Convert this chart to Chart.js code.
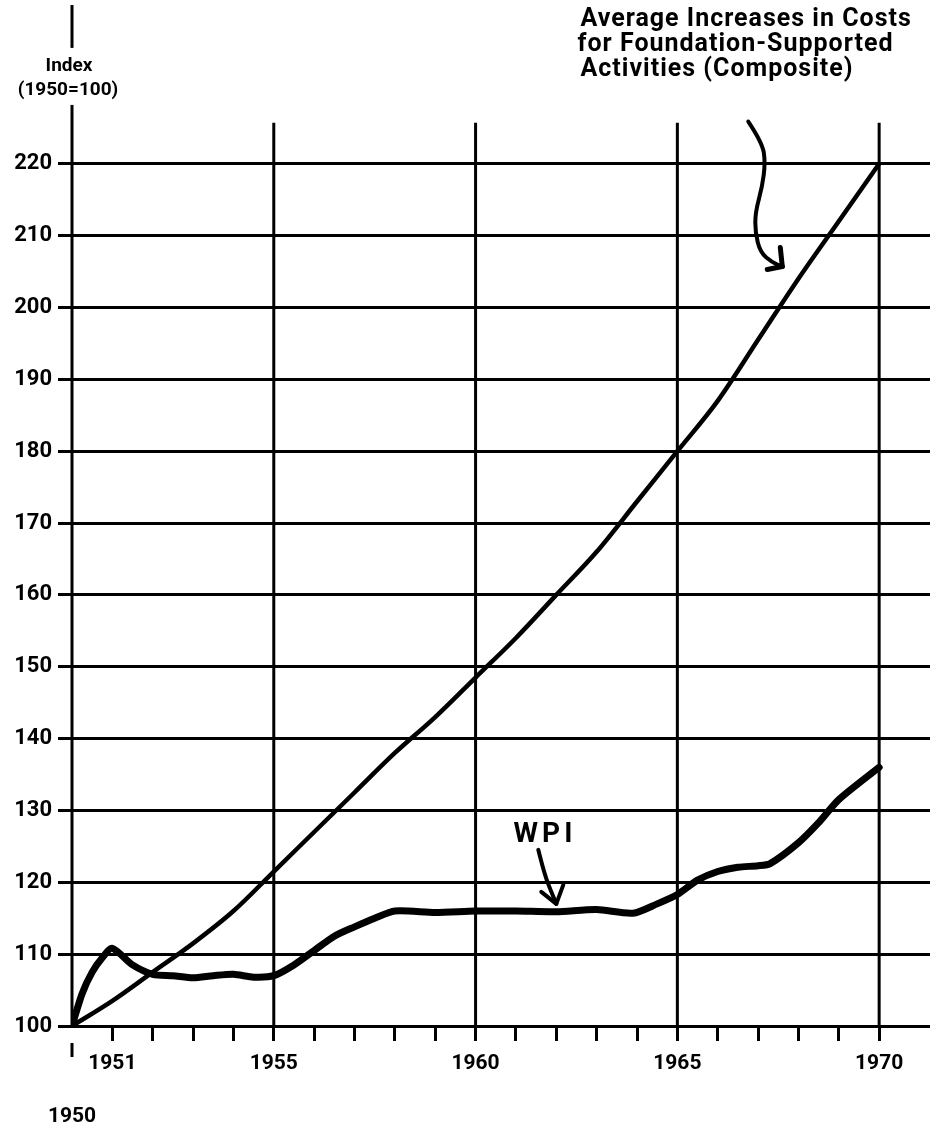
<!DOCTYPE html>
<html><head><meta charset="utf-8">
<script src="https://cdn.jsdelivr.net/npm/chart.js@4.4.1/dist/chart.umd.min.js"></script>
<style>html,body{margin:0;padding:0;background:#fff;}#wrap{width:936px;height:1132px;position:relative;}</style>
</head><body><div id="wrap"><canvas id="c"></canvas></div>
<script>
// ---- data ----
const compositeYears  = [1950,1951,1952,1953,1954,1955,1956,1957,1958,1959,1960,1961,1962,1963,1964,1965,1966,1967,1968,1969,1970];
const compositeValues = [100,103.5,107.5,111.5,116,121.5,127,132.5,138,143,148.5,154,160,166,173,180,187,195.5,204,212,220];
const wpiYears  = [1950,1950.25,1950.5,1950.75,1951,1951.5,1952,1952.5,1953,1953.5,1954,1954.5,1955,1955.5,1956,1956.5,1957,1957.5,1958,1959,1960,1961,1962,1963,1963.9,1964.5,1965,1965.5,1966,1966.5,1967,1967.3,1968,1968.5,1969,1970];
const wpiValues = [100,104.5,107.5,109.5,110.8,108.5,107.2,107,106.7,107,107.2,106.8,107,108.5,110.5,112.5,113.8,115,116,115.8,116,116,115.9,116.2,115.7,117,118.3,120.3,121.5,122.1,122.3,122.6,125.5,128.3,131.5,136];
const yTickValues = [100,110,120,130,140,150,160,170,180,190,200,210,220];
const xTickYears = [1950,1951,1952,1953,1954,1955,1956,1957,1958,1959,1960,1961,1962,1963,1964,1965,1966,1967,1968,1969,1970];
const xLabelYears = [1951,1955,1960,1965,1970];
const baseYear = 1950;
const gridYears = [1955,1960,1965,1970];
const yAxisTitle = ['Index','(1950=100)'];
const compositeNote = ['Average Increases in Costs','for Foundation-Supported','Activities (Composite)'];
const wpiNote = 'WPI';

// annotation anchors in data coordinates
const gridTopValue = 225.7;
const yTitleAnchor = {x:1950, y:230.7};
const compositeNoteAnchor = {x:1962.6, y:240.1};
const compositeArrowTip = {x:1967.6, y:205.7};
const compositeArrowPath = [[-34,-145],[-20,-124],[-17,-104],[-20,-80],[-27,-54],[-27,-34],[-22,-14],[-10,-4],[0,0]];
const compositeArrowBarbs = [[-2,-19],[-15,3]];
const wpiNoteAnchor = {x:1961.67, y:126.6};
const wpiArrowTip = {x:1962.0, y:117.0};
const wpiArrowPath = [[-18,-54],[-12,-30],[-5,-12],[0,0]];
const wpiArrowBarbs = [[-15,-12],[7,-19]];

function drawSmooth(ctx, pts){
  ctx.beginPath();
  ctx.moveTo(pts[0][0], pts[0][1]);
  for (let i=1;i<pts.length-1;i++){
    const mx=(pts[i][0]+pts[i+1][0])/2, my=(pts[i][1]+pts[i+1][1])/2;
    ctx.quadraticCurveTo(pts[i][0], pts[i][1], mx, my);
  }
  const l=pts[pts.length-1];
  ctx.lineTo(l[0], l[1]);
  ctx.stroke();
}

const deco = {
  id:'deco',
  beforeDatasetsDraw(chart){
    const {ctx, chartArea:a, scales:{x,y}} = chart;
    ctx.save();
    ctx.strokeStyle='#000'; ctx.lineWidth=3; ctx.lineCap='butt';
    const gt = y.getPixelForValue(gridTopValue);
    gridYears.forEach(v=>{
      const px = x.getPixelForValue(v);
      ctx.beginPath(); ctx.moveTo(px, gt); ctx.lineTo(px, a.bottom); ctx.stroke();
    });
    // y axis line
    const ax = x.getPixelForValue(baseYear);
    ctx.beginPath(); ctx.moveTo(ax, a.top); ctx.lineTo(ax, a.bottom+1); ctx.stroke();
    // y title with white backing
    const tx = ax - 4, ty = y.getPixelForValue(yTitleAnchor.y);
    ctx.font = 'bold 19px Roboto';
    ctx.fillStyle='#fff';
    ctx.fillRect(tx-56, ty-39, 112, 57);
    ctx.fillStyle='#000'; ctx.textAlign='center'; ctx.textBaseline='middle';
    ctx.fillText(yAxisTitle[0], tx+1, ty-21);
    ctx.fillText(yAxisTitle[1], tx, ty+3);
    ctx.restore();
  },
  afterDatasetsDraw(chart){
    const {ctx, chartArea:a, scales:{x,y}} = chart;
    ctx.save();
    ctx.strokeStyle='#000'; ctx.fillStyle='#000';
    // base-year tick mark (offset below axis)
    const ax = x.getPixelForValue(baseYear);
    ctx.lineWidth=3;
    ctx.beginPath(); ctx.moveTo(ax, a.bottom+17); ctx.lineTo(ax, a.bottom+31); ctx.stroke();
    // composite note
    ctx.font = 'bold 25px Roboto';
    try { ctx.letterSpacing='1px'; } catch(e){}
    ctx.textAlign='left'; ctx.textBaseline='middle';
    const nx = x.getPixelForValue(compositeNoteAnchor.x), ny = y.getPixelForValue(compositeNoteAnchor.y);
    compositeNote.forEach((t,i)=>ctx.fillText(t, nx + (i===1?-3:0), ny + i*25));
    try { ctx.letterSpacing='0px'; } catch(e){}
    // composite arrow
    ctx.lineWidth=4; ctx.lineCap='round'; ctx.lineJoin='round';
    const cx = x.getPixelForValue(compositeArrowTip.x), cy = y.getPixelForValue(compositeArrowTip.y);
    drawSmooth(ctx, compositeArrowPath.map(p=>[cx+p[0], cy+p[1]]));
    ctx.lineWidth=5;
    compositeArrowBarbs.forEach(b=>{ctx.beginPath(); ctx.moveTo(cx,cy); ctx.lineTo(cx+b[0], cy+b[1]); ctx.stroke();});
    // WPI note
    ctx.font = 'bold 28px Roboto'; ctx.textAlign='center';
    try { ctx.letterSpacing='4px'; } catch(e){}
    ctx.fillText(wpiNote, x.getPixelForValue(wpiNoteAnchor.x)+2, y.getPixelForValue(wpiNoteAnchor.y));
    try { ctx.letterSpacing='0px'; } catch(e){}
    const wx = x.getPixelForValue(wpiArrowTip.x), wy = y.getPixelForValue(wpiArrowTip.y);
    ctx.lineWidth=4;
    drawSmooth(ctx, wpiArrowPath.map(p=>[wx+p[0], wy+p[1]]));
    wpiArrowBarbs.forEach(b=>{ctx.beginPath(); ctx.moveTo(wx,wy); ctx.lineTo(wx+b[0], wy+b[1]); ctx.stroke();});
    ctx.restore();
  }
};

new Chart(document.getElementById('c'), {
  type:'line',
  data:{
    datasets:[
      {label:'Composite', data: compositeYears.map((v,i)=>({x:v, y:compositeValues[i]})),
       borderColor:'#000', borderWidth:4.5, pointRadius:0, cubicInterpolationMode:'monotone', fill:false},
      {label:'WPI', data: wpiYears.map((v,i)=>({x:v, y:wpiValues[i]})),
       borderColor:'#000', borderWidth:7, pointRadius:0, tension:0.25, fill:false, borderCapStyle:'round', borderJoinStyle:'round'}
    ]
  },
  options:{
    responsive:true, maintainAspectRatio:false, animation:false,
    layout:{padding:{top:5, right:6, left:0, bottom:0}},
    plugins:{legend:{display:false}, tooltip:{enabled:false}},
    scales:{
      x:{type:'linear', min:1950, max:1971.26,
        afterBuildTicks: s=>{ s.ticks = xTickYears.map(v=>({value:v})); },
        afterFit: s=>{ s.height = 106; s.paddingLeft = 0; s.paddingRight = 0; },
        border:{display:false},
        grid:{drawOnChartArea:false, drawTicks:true, tickLength:15, lineWidth:3,
          color: c => (c.tick && c.tick.value===baseYear) ? 'rgba(0,0,0,0)' : '#000'},
        ticks:{autoSkip:false, maxRotation:0, minRotation:0, padding:9, color:'#000',
          font:{family:'Roboto', weight:'bold', size:21, lineHeight:1.27},
          callback: v => v===baseYear ? ['', '', String(baseYear)] : (xLabelYears.includes(v) ? String(v) : '')}
      },
      y:{type:'linear', min:100, max:242.1,
        afterBuildTicks: s=>{ s.ticks = yTickValues.map(v=>({value:v})); },
        afterFit: s=>{ s.width = 72; s.paddingTop = 0; s.paddingBottom = 0; },
        border:{display:false},
        grid:{color:'#000', lineWidth:3, tickLength:14},
        ticks:{autoSkip:false, padding:6, color:'#000', font:{family:'Roboto', weight:'bold', size:22}}
      }
    }
  },
  plugins:[deco]
});
</script></body></html>
